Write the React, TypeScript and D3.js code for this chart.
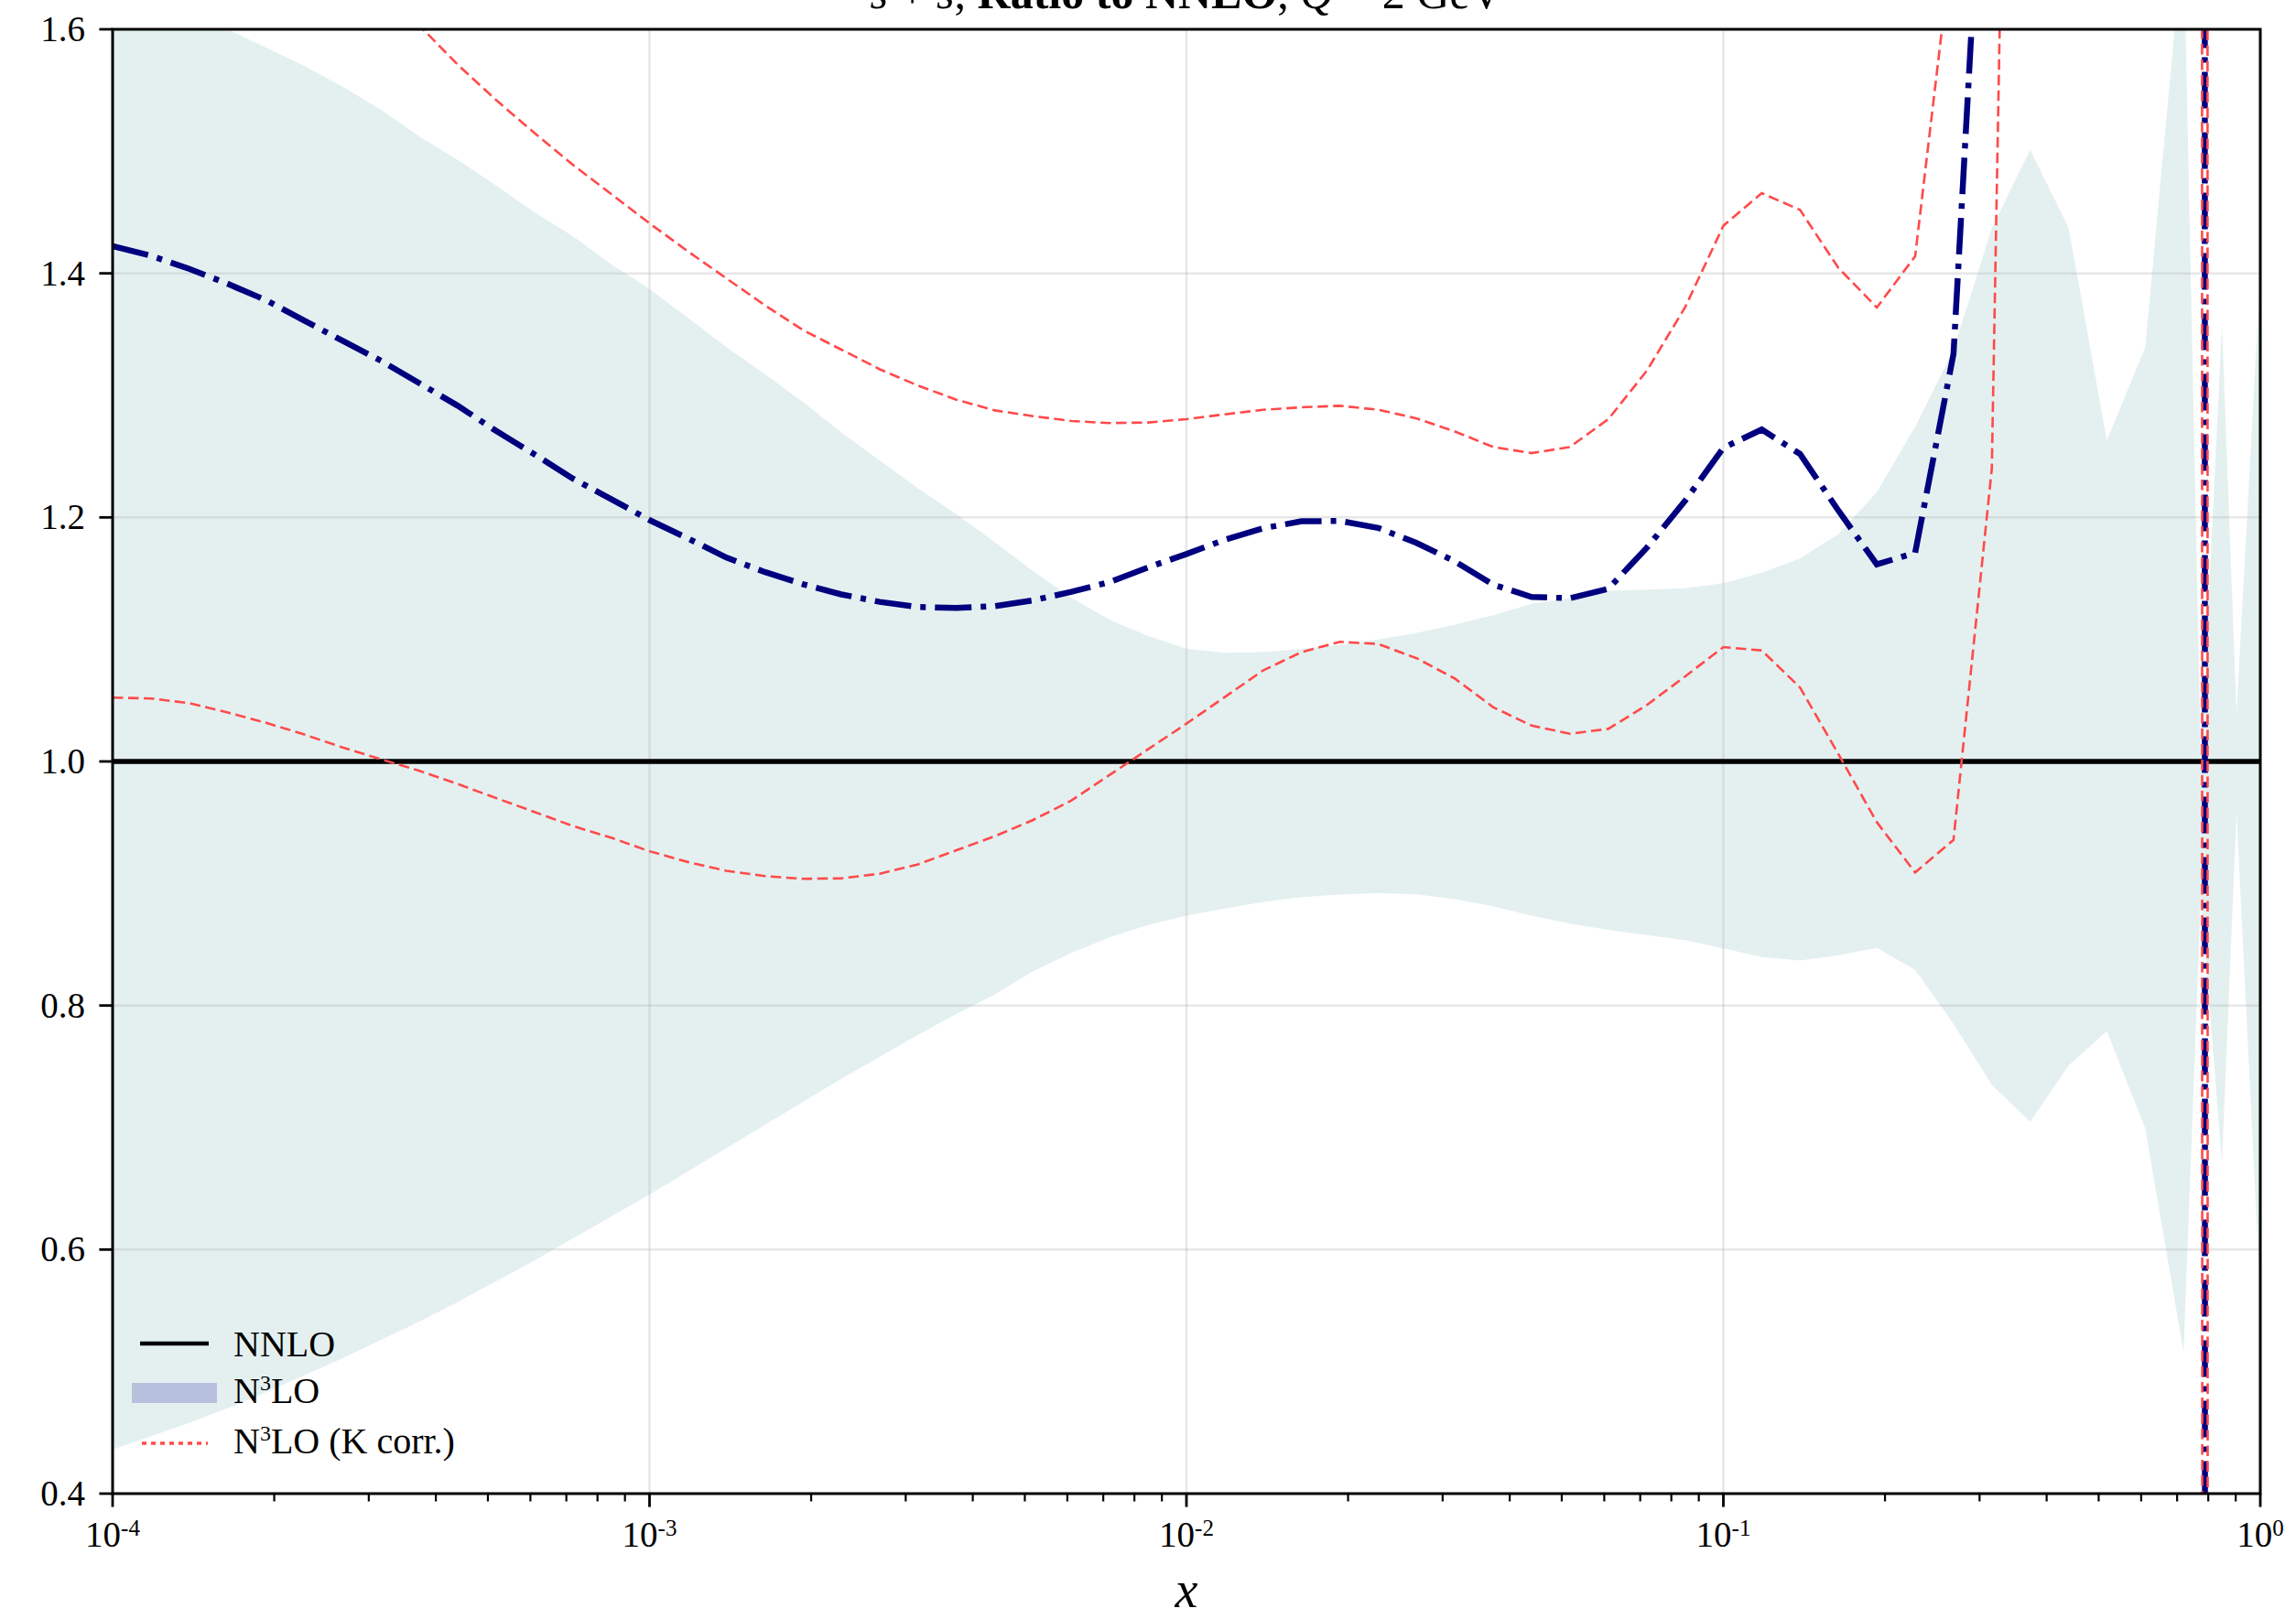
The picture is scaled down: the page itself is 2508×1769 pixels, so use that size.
import React from "react";
import * as d3 from "d3";

// x grid (log-spaced, plus two extra points near the large-x end)
const xValues = [
  1.0e-4, 1.179e-4, 1.389e-4, 1.638e-4, 1.931e-4, 2.276e-4, 2.683e-4, 3.162e-4, 3.728e-4, 4.394e-4, 5.179e-4, 6.105e-4, 7.197e-4, 8.483e-4,
  1.0e-3, 1.179e-3, 1.389e-3, 1.638e-3, 1.931e-3, 2.276e-3, 2.683e-3, 3.162e-3, 3.728e-3, 4.394e-3, 5.179e-3, 6.105e-3, 7.197e-3, 8.483e-3,
  1.0e-2, 1.179e-2, 1.389e-2, 1.638e-2, 1.931e-2, 2.276e-2, 2.683e-2, 3.162e-2, 3.728e-2, 4.394e-2, 5.179e-2, 6.105e-2, 7.197e-2, 8.483e-2,
  0.1, 0.1179, 0.1389, 0.1638, 0.1931, 0.2276, 0.2683, 0.3162, 0.3728, 0.4394, 0.5179, 0.6105, 0.7197, 0.775, 0.8483, 0.903, 1.0,
];

// N3LO central / NNLO (navy dash-dot)
const n3loCentral = [
  1.4224, 1.4144, 1.4037, 1.3914, 1.378, 1.3612, 1.3447, 1.3283, 1.3099, 1.2915, 1.2709, 1.2517, 1.2318, 1.215,
  1.1978, 1.1828, 1.1672, 1.1553, 1.1453, 1.1369, 1.1308, 1.1266, 1.1258, 1.1273, 1.132, 1.139, 1.147, 1.159,
  1.17, 1.1817, 1.1911, 1.1968, 1.1971, 1.1914, 1.179, 1.164, 1.1449, 1.1348, 1.1338, 1.1415, 1.175, 1.2135,
  1.257, 1.272, 1.252, 1.2055, 1.1615, 1.171, 1.334, 1.9, 2.6, 3.5, 5.0, 8.0, 15.0, 40.0, -164.0, -10.0, -4.0,
];

// N3LO (K corr.) upper edge (red dashed)
const kCorrUpper = [
  1.86, 1.83, 1.8, 1.77, 1.74, 1.71, 1.675, 1.64, 1.603, 1.571, 1.542, 1.515, 1.489, 1.465,
  1.441, 1.418, 1.396, 1.374, 1.3535, 1.3375, 1.3214, 1.308, 1.2965, 1.2877, 1.283, 1.279, 1.2773, 1.2778,
  1.2805, 1.2845, 1.2882, 1.2902, 1.2915, 1.2882, 1.2811, 1.2704, 1.2577, 1.2527, 1.2577, 1.2805, 1.32, 1.372,
  1.439, 1.4657, 1.452, 1.4044, 1.372, 1.414, 1.68, 2.5, 3.5, 5.0, 7.0, 10.0, 18.0, 60.0, -124.0, -12.0, -5.0,
];

// N3LO (K corr.) lower edge (red dashed)
const kCorrLower = [
  1.0523, 1.0516, 1.0478, 1.0401, 1.0317, 1.0221, 1.0114, 1.0018, 0.9923, 0.9815, 0.97, 0.9586, 0.9471, 0.9375,
  0.9264, 0.9176, 0.9104, 0.9061, 0.9038, 0.9042, 0.908, 0.9157, 0.9272, 0.9387, 0.952, 0.968, 0.989, 1.01,
  1.031, 1.0528, 1.0746, 1.0896, 1.098, 1.0963, 1.0846, 1.0679, 1.0444, 1.0294, 1.0227, 1.0267, 1.0461, 1.0696,
  1.0937, 1.091, 1.0606, 1.006, 0.9502, 0.909, 0.9357, 1.24, 3.0, 5.0, 7.0, 9.0, 12.0, 10.0, -136.0, -10.0, -4.0,
];

// N3LO uncertainty band
const bandUpper = [
  1.66, 1.64, 1.62, 1.6, 1.585, 1.57, 1.553, 1.534, 1.512, 1.493, 1.472, 1.45, 1.4305, 1.4075,
  1.3872, 1.3635, 1.3398, 1.3176, 1.2946, 1.2697, 1.2468, 1.2238, 1.2027, 1.1798, 1.156, 1.134, 1.116, 1.103,
  1.0925, 1.089, 1.0896, 1.0923, 1.0957, 1.1, 1.1054, 1.1121, 1.1198, 1.1291, 1.1338, 1.1399, 1.1409, 1.1419,
  1.146, 1.1546, 1.1664, 1.1863, 1.2207, 1.2743, 1.3375, 1.437, 1.5012, 1.4377, 1.2629, 1.3394, 1.68, 1.0, 1.358, 1.04, 1.4,
];
const bandLower = [
  0.436, 0.447, 0.458, 0.47, 0.483, 0.497, 0.511, 0.526, 0.541, 0.557, 0.574, 0.591, 0.609, 0.627,
  0.645, 0.664, 0.683, 0.702, 0.721, 0.74, 0.758, 0.776, 0.793, 0.809, 0.828, 0.843, 0.856, 0.866,
  0.8737, 0.8794, 0.8848, 0.8888, 0.8908, 0.8921, 0.8911, 0.8871, 0.8814, 0.8737, 0.867, 0.862, 0.8576, 0.8536,
  0.8469, 0.8397, 0.8368, 0.8412, 0.8472, 0.8291, 0.785, 0.7348, 0.7046, 0.7508, 0.779, 0.6994, 0.5158, 0.89, 0.6705, 0.9577, 0.562,
];

const yTicks = [0.4, 0.6, 0.8, 1.0, 1.2, 1.4, 1.6];
const xTickExponents = [-4, -3, -2, -1, 0];
const minorMantissas = [2, 3, 4, 5, 6, 7, 8, 9];
const nnloValue = 1.0;

const W = 2508;
const H = 1769;
const M = { left: 123, right: 2469, top: 32, bottom: 1632 };

const SERIF = "'Liberation Serif', 'Times New Roman', serif";
const BAND = "#e4f0f0";
const NAVY = "#00007f";
const RED = "#ff4a4a";

export default function App() {
  const x = d3.scaleLog().domain([1e-4, 1]).range([M.left, M.right]);
  const y = d3.scaleLinear().domain([0.4, 1.6]).range([M.bottom, M.top]);

  const area = d3
    .area<number>()
    .x((_, i) => x(xValues[i]))
    .y0((_, i) => y(bandLower[i]))
    .y1((d) => y(d));
  const line = d3
    .line<number>()
    .x((_, i) => x(xValues[i]))
    .y((d) => y(d));

  const minorTicks: number[] = [];
  for (let k = -4; k < 0; k++) for (const m of minorMantissas) minorTicks.push(m * Math.pow(10, k));

  const legendX0 = 153;
  const legendX1 = 228;
  const legendTextX = 255;

  return (
    <div style={{ position: "absolute", left: 0, top: 0, width: W, height: H, background: "#fff" }}>
      <svg width={W} height={H} viewBox={`0 0 ${W} ${H}`} style={{ display: "block" }}>
        <defs>
          <clipPath id="plotClip">
            <rect x={M.left} y={M.top} width={M.right - M.left} height={M.bottom - M.top} />
          </clipPath>
        </defs>
        <rect x={0} y={0} width={W} height={H} fill="#fff" />

        <g clipPath="url(#plotClip)">
          <path d={area(bandUpper) || ""} fill={BAND} stroke="none" />
          {/* grid */}
          {yTicks.map((t) => (
            <line key={"gy" + t} x1={M.left} x2={M.right} y1={y(t)} y2={y(t)} stroke="#b0b0b0" strokeOpacity={0.3} strokeWidth={2.5} />
          ))}
          {xTickExponents.map((e) => (
            <line key={"gx" + e} x1={x(Math.pow(10, e))} x2={x(Math.pow(10, e))} y1={M.top} y2={M.bottom} stroke="#b0b0b0" strokeOpacity={0.3} strokeWidth={2.5} />
          ))}
          {/* NNLO reference */}
          <line x1={M.left} x2={M.right} y1={y(nnloValue)} y2={y(nnloValue)} stroke="#000" strokeWidth={5.5} />
          {/* N3LO central */}
          <path d={line(n3loCentral) || ""} fill="none" stroke={NAVY} strokeWidth={6.5} strokeDasharray="40,10,6,10" />
          {/* K corr */}
          <path d={line(kCorrUpper) || ""} fill="none" stroke={RED} strokeWidth={2.6} strokeDasharray="11.5,5.5" />
          <path d={line(kCorrLower) || ""} fill="none" stroke={RED} strokeWidth={2.6} strokeDasharray="11.5,5.5" />
        </g>

        {/* spines */}
        <rect x={M.left} y={M.top} width={M.right - M.left} height={M.bottom - M.top} fill="none" stroke="#000" strokeWidth={3} />

        {/* y ticks */}
        {yTicks.map((t) => (
          <g key={"yt" + t}>
            <line x1={M.left - 14.6} x2={M.left} y1={y(t)} y2={y(t)} stroke="#000" strokeWidth={2.8} />
            <text x={M.left - 30} y={y(t)} dy="0.33em" textAnchor="end" fontFamily={SERIF} fontSize={39} fill="#000">
              {t.toFixed(1)}
            </text>
          </g>
        ))}

        {/* x ticks */}
        {minorTicks.map((t) => (
          <line key={"mx" + t} x1={x(t)} x2={x(t)} y1={M.bottom} y2={M.bottom + 8.5} stroke="#000" strokeWidth={2.2} />
        ))}
        {xTickExponents.map((e) => (
          <g key={"xt" + e}>
            <line x1={x(Math.pow(10, e))} x2={x(Math.pow(10, e))} y1={M.bottom} y2={M.bottom + 14.6} stroke="#000" strokeWidth={2.8} />
            <text x={x(Math.pow(10, e))} y={1690} textAnchor="middle" fontFamily={SERIF} fontSize={39} fill="#000">
              10
              <tspan fontSize={25} dy={-12}>
                {String(e)}
              </tspan>
            </text>
          </g>
        ))}

        {/* x label */}
        <text x={(M.left + M.right) / 2} y={1756} textAnchor="middle" fontFamily={SERIF} fontStyle="italic" fontSize={56} fill="#000">
          x
        </text>

        {/* title (mostly cropped above the image, as in the reference) */}
        <text x={(M.left + M.right) / 2} y={9} textAnchor="middle" fontFamily={SERIF} fontSize={50} fill="#000">
          <tspan fontStyle="italic">s</tspan>
          <tspan> + </tspan>
          <tspan fontStyle="italic">s̄</tspan>
          <tspan>, </tspan>
          <tspan fontWeight="bold">Ratio to NNLO</tspan>
          <tspan>, </tspan>
          <tspan fontStyle="italic">Q</tspan>
          <tspan> = 2 GeV</tspan>
        </text>

        {/* legend */}
        <g fontFamily={SERIF} fontSize={40} fill="#000">
          <line x1={legendX0} x2={legendX1} y1={1468} y2={1468} stroke="#000" strokeWidth={4.5} />
          <text x={legendTextX} y={1482}>NNLO</text>

          <rect x={144} y={1511} width={93} height={22} fill="#b7c1de" />
          <text x={legendTextX} y={1533}>
            N<tspan fontSize={24} dy={-14}>3</tspan>
            <tspan dy={14}>LO</tspan>
          </text>

          <line x1={155} x2={227} y1={1577} y2={1577} stroke={RED} strokeWidth={3.5} strokeDasharray="5,5" />
          <text x={legendTextX} y={1588}>
            N<tspan fontSize={24} dy={-14}>3</tspan>
            <tspan dy={14}>LO (K corr.)</tspan>
          </text>
        </g>
      </svg>
    </div>
  );
}
